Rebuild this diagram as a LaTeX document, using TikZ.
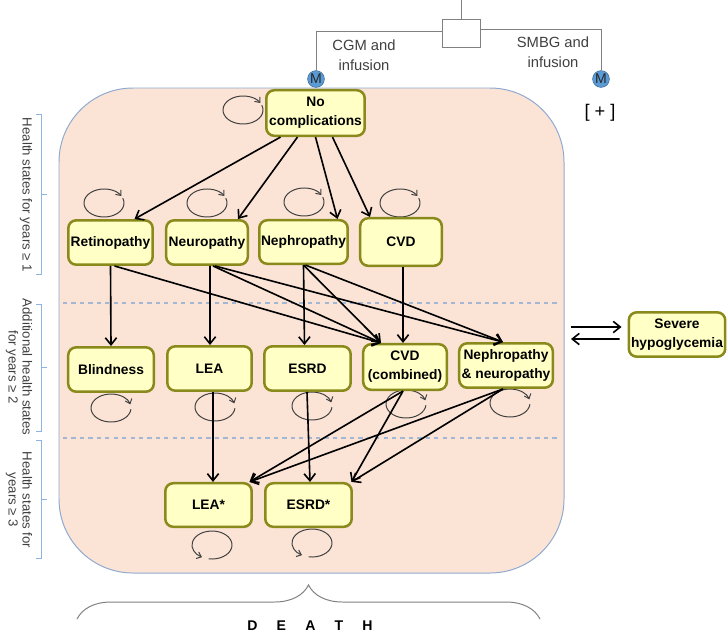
\documentclass[tikz,border=0pt]{standalone}
\usepackage{fontspec}
\setmainfont{Liberation Sans}
\usetikzlibrary{calc,arrows.meta,decorations.pathreplacing}

\definecolor{peach}{HTML}{FBE4D6}
\definecolor{panelblue}{HTML}{8FAAD0}
\definecolor{statefill}{HTML}{FFFFC6}
\definecolor{stateedge}{HTML}{8A8A1C}
\definecolor{labelgray}{HTML}{404040}
\definecolor{bracketblue}{HTML}{8DB4E2}
\definecolor{dashblue}{HTML}{A3B6D3}
\definecolor{markerblue}{HTML}{5B9BD5}

\tikzset{
  state/.style={draw=stateedge, fill=statefill, line width=1.8pt, rounded corners=0.2cm,
    align=center, inner sep=1pt, font=\fontsize{9.8}{13.5}\selectfont\bfseries},
  trans/.style={line width=1.15pt, -{Straight Barb[length=5pt,width=8pt]}},
  selfloop/.style={labelgray, line width=0.7pt, -{Straight Barb[length=3pt,width=5pt]}},
  sidenote/.style={labelgray, rotate=-90, align=center, font=\fontsize{9.4}{10}\selectfont},
  treeline/.style={gray, line width=0.7pt},
  marker/.style={circle, fill=markerblue, draw=markerblue!70!black, line width=0.4pt,
    minimum size=0.42cm, inner sep=0pt, text=black!85, font=\fontsize{10}{10}\selectfont}
}

\begin{document}
\begin{tikzpicture}[x=0.025cm, y=-0.025cm]
    \useasboundingbox (0,0) rectangle (728,634);
    % panel holding the health states
    \fill[peach, draw=panelblue, line width=0.7pt, rounded corners=1.85cm] (59,88) rectangle (564,573);
    \draw[dashblue, dashed, line width=0.8pt] (63,303) -- (558,303);
    \draw[dashblue, dashed, line width=0.8pt] (63,438) -- (558,438);

    % decision on top
    \coordinate (Root) at (461,0);
    \node[draw, treeline, fill=white, minimum width=0.95cm, minimum height=0.72cm, inner sep=0pt] (Choice) at (461,33.5) {};
    \node[marker] (MLeft)  at (316,79) {M};
    \node[marker] (MRight) at (601,79) {M};
    \draw[treeline] (Root) -- (Choice.north);
    \draw[treeline] ($(Choice.west)+(0,-2.5)$) -| (MLeft.north);
    \draw[treeline] ($(Choice.east)+(0,-4)$) -| (MRight.north);
    \node[labelgray, align=center, font=\fontsize{10.5}{14}\selectfont] (CGMText)  at (364,55) {CGM and\\infusion};
    \node[labelgray, align=center, font=\fontsize{10.5}{14}\selectfont] (SMBGText) at (553,52) {SMBG and\\infusion};
    \node[font=\fontsize{13}{14}\selectfont] (Plus) at (600,113) {[ + ]};

    % brackets and labels on the left
    \foreach \ya/\ym/\yb in {114/194/274, 304/367/431, 440/499/558} {
        \draw[bracketblue, line width=0.6pt] (36,\ya) -- (41,\ya) -- (41,\yb) -- (36,\yb);
        \draw[bracketblue, line width=0.6pt] (41,\ym) -- (47,\ym);
    }
    \node[sidenote] (SideOne)   at (26,195) {Health states for years ≥ 1};
    \node[sidenote] (SideTwo)   at (19,367) {Additional health states\\for years ≥ 2};
    \node[sidenote] (SideThree) at (19,500) {Health states for\\years ≥ 3};

    % self loops
    \foreach \cx/\cy in {243/110, 104/203, 207/203, 304/202, 400/203}
        \draw[selfloop] (\cx,\cy) ++(-20:20 and 14) arc[start angle=-20, end angle=330, x radius=20, y radius=14];
    \foreach \cx/\cy in {111/408, 215/407, 312/406, 406/404, 510/403}
        \draw[selfloop] (\cx,\cy) ++(5:20 and 14) arc[start angle=5, end angle=345, x radius=20, y radius=14];
    \foreach \cx/\cy in {212/545, 312/543}
        \draw[selfloop] (\cx,\cy) ++(100:20 and 14) arc[start angle=460, end angle=120, x radius=20, y radius=14];

    % health states
    \node[state, minimum width=2.46cm, minimum height=1.14cm] (NoComp)    at (315.5,113) {No\\complications};
    \node[state, minimum width=2.11cm, minimum height=1.11cm] (Retino)    at (110.5,242.5) {Retinopathy};
    \node[state, minimum width=2.04cm, minimum height=1.11cm] (Neuro)     at (207,242.5) {Neuropathy};
    \node[state, minimum width=2.21cm, minimum height=1.09cm] (Nephro)    at (303.5,242) {Nephropathy};
    \node[state, minimum width=2.04cm, minimum height=1.19cm] (CVD)       at (401,242) {CVD};
    \node[state, minimum width=2.14cm, minimum height=1.11cm] (Blind)     at (111,369.5) {Blindness};
    \node[state, minimum width=2.11cm, minimum height=1.11cm] (LEA)       at (209.5,368.5) {LEA};
    \node[state, minimum width=2.16cm, minimum height=1.11cm] (ESRD)      at (307.5,368.5) {ESRD};
    \node[state, minimum width=2.09cm, minimum height=1.14cm] (CVDComb)   at (405,367) {CVD\\(combined)};
    \node[state, minimum width=2.34cm, minimum height=1.11cm] (NephNeuro) at (506,365.5) {Nephropathy\\\& neuropathy};
    \node[state, minimum width=2.16cm, minimum height=1.09cm] (LEAStar)   at (208.5,505) {LEA*};
    \node[state, minimum width=2.16cm, minimum height=1.09cm] (ESRDStar)  at (308.5,505) {ESRD*};
    \node[state, minimum width=2.41cm, minimum height=1.11cm] (Hypo)      at (677,334.5) {Severe\\hypoglycemia};

    % transitions from no complications
    \draw[trans] ($(NoComp.south)+(-35,0)$) -- ($(Retino.north)+(24,0)$);
    \draw[trans] ($(NoComp.south)+(-18,0)$) -- ($(Neuro.north)+(31,0)$);
    \draw[trans] (NoComp.south) -- ($(Nephro.north)+(34,0)$);
    \draw[trans] ($(NoComp.south)+(17,0)$) -- ($(CVD.north)+(-31,0)$);
    % transitions into year 2 states
    \draw[trans] (Retino.south) -- (Blind.north);
    \draw[trans] ($(Retino.south)+(4,0)$) -- ($(CVDComb.north)+(-24,0)$);
    \draw[trans] ($(Neuro.south)+(3,0)$) -- ($(LEA.north)+(0.5,0)$);
    \draw[trans] ($(Neuro.south)+(6,0)$) -- ($(CVDComb.north)+(-24,0)$);
    \draw[trans] ($(Neuro.south)+(8,0)$) -- ($(NephNeuro.north)+(-3,0)$);
    \draw[trans] (Nephro.south) -- ($(ESRD.north)+(-3,0)$);
    \draw[trans] (Nephro.south) -- ($(CVDComb.north)+(-24,0)$);
    \draw[trans] ($(Nephro.south)+(2,0)$) -- ($(NephNeuro.north)+(-3,0)$);
    \draw[trans] ($(CVD.south)+(2,0)$) -- ($(CVDComb.north)+(-2,0)$);
    % transitions into year 3 states
    \draw[trans] ($(LEA.south)+(3.5,0)$) -- ($(LEAStar.north)+(4.5,0)$);
    \draw[trans] ($(ESRD.south)+(-0.5,0)$) -- ($(ESRDStar.north)+(1.5,0)$);
    \draw[trans] ($(CVDComb.south)+(-2,0)$) -- ($(LEAStar.north)+(41,0)$);
    \draw[trans] ($(CVDComb.south)+(-2,0)$) -- ($(ESRDStar.north)+(43,0)$);
    \draw[trans] ($(NephNeuro.south)+(-3,0)$) -- ($(LEAStar.north)+(41,0)$);
    \draw[trans] ($(NephNeuro.south)+(-3,0)$) -- ($(ESRDStar.north)+(43,0)$);

    % severe hypoglycemia in and out
    \coordinate (HypoIn)  at (571,327);
    \coordinate (HypoOut) at (571,339);
    \draw[trans] (HypoIn) -- ($(Hypo.west)+(-6,-7.5)$);
    \draw[trans] ($(Hypo.west)+(-8,4.5)$) -- (HypoOut);

    % death
    \draw[gray, line width=0.7pt, decorate, decoration={brace, amplitude=0.85cm}] (77,619) -- (540,619);
    \node[font=\fontsize{10}{10}\selectfont\bfseries] (Death) at (310,626) {D\hspace{0.48cm}E\hspace{0.48cm}A\hspace{0.48cm}T\hspace{0.48cm}H};
\end{tikzpicture}
\end{document}
